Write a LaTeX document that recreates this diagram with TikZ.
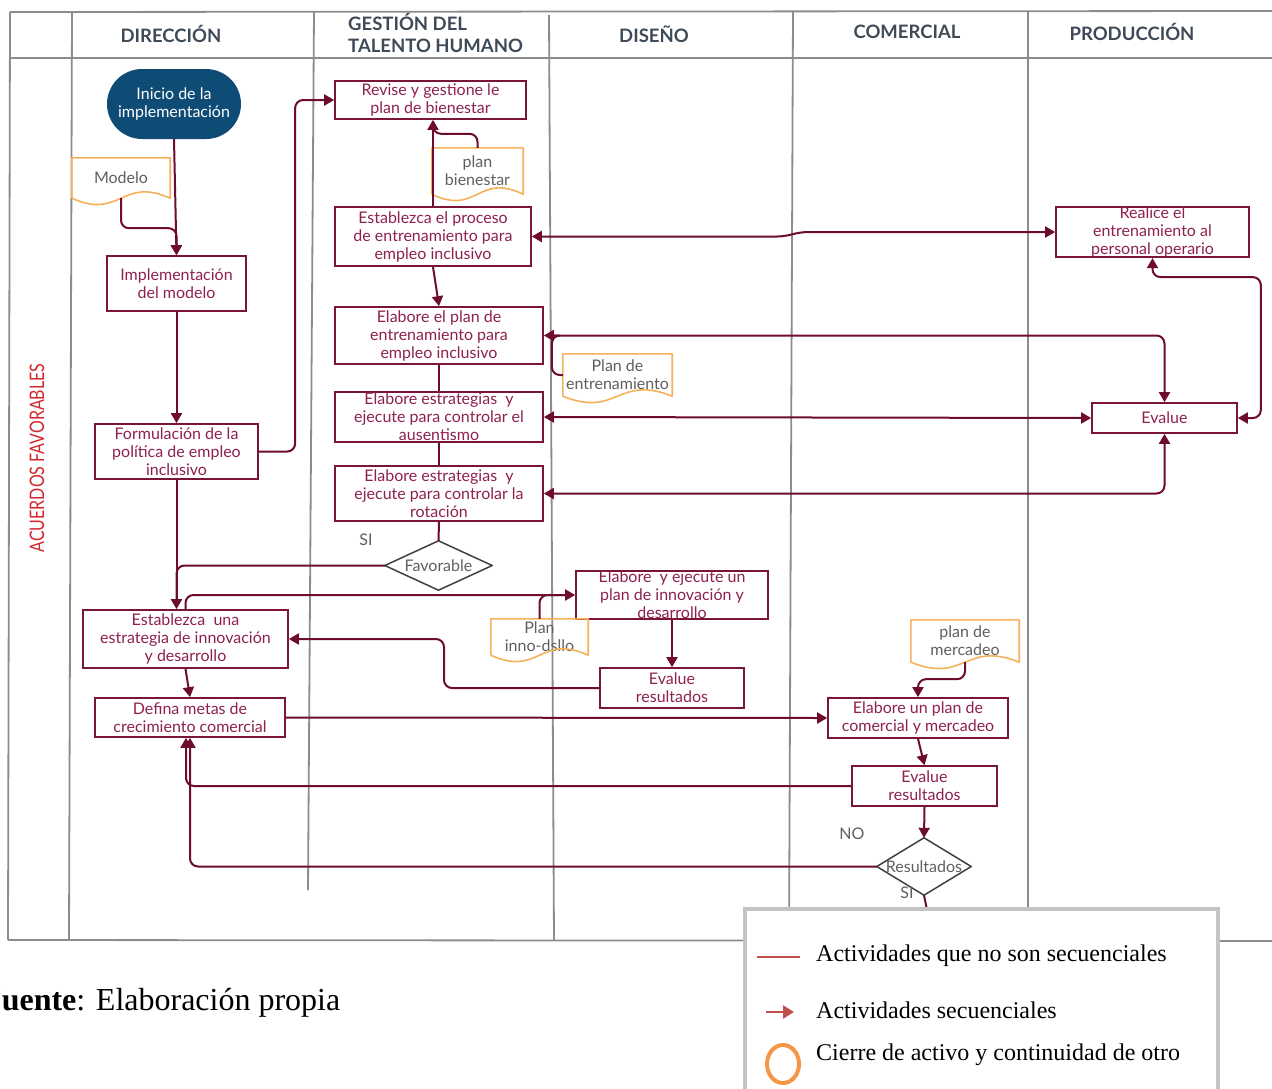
\documentclass[tikz,border=0pt]{standalone}
\usepackage{fontspec}
\setmainfont{Liberation Serif}
\newfontfamily\latofont{Lato}
\usetikzlibrary{arrows.meta,calc}

\definecolor{lane}{HTML}{8C8C8C}
\definecolor{hdr}{HTML}{3E4A57}
\definecolor{boxline}{HTML}{7A1538}
\definecolor{boxtext}{HTML}{8E2150}
\definecolor{wire}{HTML}{6E0B31}
\definecolor{docedge}{HTML}{F5B15A}
\definecolor{doctext}{HTML}{5F5F5F}
\definecolor{startfill}{HTML}{0F4C75}
\definecolor{sidelabel}{HTML}{D3262E}
\definecolor{legendframe}{HTML}{C4C4C4}
\definecolor{legendred}{HTML}{C0504D}
\definecolor{legendorange}{HTML}{F79646}

\tikzset{
  lanerule/.style={draw=lane, line width=1.8pt},
  header/.style={font=\latofont\bfseries\fontsize{18.5}{21.5}\selectfont, text=hdr, align=left, inner sep=0pt},
  stepbox/.style={draw=boxline, line width=1.7pt, fill=white, font=\latofont\fontsize{16}{18}\selectfont,
    text=boxtext, align=center, inner sep=0pt},
  docnode/.style={font=\latofont\fontsize{16}{18}\selectfont, text=doctext, align=center, inner sep=0pt},
  decision/.style={font=\latofont\fontsize{16}{18}\selectfont, text=doctext, inner sep=0pt},
  smalllabel/.style={font=\latofont\fontsize{16}{18}\selectfont, text=doctext, inner sep=0pt},
  conn/.style={draw=wire, line width=2pt, rounded corners=8pt},
  tip/.style={-{Triangle[length=10pt,width=11pt]}},
  arr/.style={conn, tip},
  biarr/.style={conn, {Triangle[length=10pt,width=11pt]}-{Triangle[length=10pt,width=11pt]}},
  legendtext/.style={font=\fontsize{24}{28}\selectfont, inner sep=0pt, anchor=base west},
}

% document symbol: straight top and sides, wavy bottom
\newcommand\docoutline[1]{%
  \draw[docedge, line width=1.6pt, line join=round]
    (#1.south west) -- (#1.north west) -- (#1.north east) -- (#1.south east)
    .. controls ($(#1.south)+(0,-22)$) and ($(#1.south)+(0,22)$) .. (#1.south west);}
% decision symbol drawn on the anchors of its node
\newcommand\diamondoutline[1]{%
  \draw[black!75, line width=1.5pt, line join=round]
    (#1.north) -- (#1.east) -- (#1.south) -- (#1.west) -- cycle;}

\begin{document}
\begin{tikzpicture}[x=1pt, y=-1pt]
\useasboundingbox (0,0) rectangle (1272,1088);

% ---------- swimlanes ----------
\draw[lanerule] (10,12) -- (1272,11);
\draw[lanerule] (10,58) -- (1272,58);
\draw[lanerule] (8,940) -- (1272,941);
\draw[lanerule] (10,12) -- (8,940);
\draw[lanerule] (72,12) -- (69,940);
\draw[lanerule] (314,12) -- (308,890);
\draw[lanerule] (549,15) -- (554,940);
\draw[lanerule] (793,12) -- (789,940);
\draw[lanerule] (1028,12) -- (1028,940);

\node[header, anchor=center] (hdir) at (171,34) {DIRECCIÓN};
\node[header, anchor=west] (hgth) at (348,33) {GESTIÓN DEL\\TALENTO HUMANO};
\node[header, anchor=center] (hdis) at (654,34) {DISEÑO};
\node[header, anchor=center] (hcom) at (907,32) {COMERCIAL};
\node[header, anchor=center] (hpro) at (1132,32) {PRODUCCIÓN};

\node[rotate=90, text=sidelabel, inner sep=0pt, font=\latofont\fontsize{20}{24}\selectfont]
  (side) at (37,458) {\scalebox{0.8}[1]{ACUERDOS FAVORABLES}};

% ---------- activities ----------
\node[fill=startfill, rounded corners=35pt, minimum width=134pt, minimum height=70pt, inner sep=0pt,
  align=center, text=white, font=\latofont\fontsize{16}{18}\selectfont]
  (start) at (174,104) {Inicio de la\\implementación};

\node[stepbox, minimum width=139pt, minimum height=55pt] (impl) at (176.5,283.5) {Implementación\\del modelo};
\node[stepbox, minimum width=163pt, minimum height=55pt] (form) at (176.5,451.5) {Formulación de la\\política de empleo\\inclusivo};
\node[stepbox, minimum width=191pt, minimum height=38pt] (revise) at (430.5,100) {Revise y gestione le\\plan de bienestar};
\node[stepbox, minimum width=196pt, minimum height=59pt] (estp) at (433,236.5) {Establezca el proceso\\de entrenamiento para\\empleo inclusivo};
\node[stepbox, minimum width=208pt, minimum height=57pt] (epl) at (439,335.5) {Elabore el plan de\\entrenamiento para\\empleo inclusivo};
\node[stepbox, minimum width=208pt, minimum height=50pt] (aus) at (439,417) {Elabore estrategias \ y\\ejecute para controlar el\\ausentismo};
\node[stepbox, minimum width=208pt, minimum height=55pt] (rot) at (439,493.5) {Elabore estrategias \ y\\ejecute para controlar la\\rotación};
\node[stepbox, minimum width=205pt, minimum height=58pt] (estu) at (185.5,639) {Establezca \ una\\estrategia de innovación\\y desarrollo};
\node[stepbox, minimum width=190pt, minimum height=39pt] (defm) at (190,717.5) {Defina metas de\\crecimiento comercial};
\node[stepbox, minimum width=192pt, minimum height=48pt] (ejd) at (672,595) {Elabore \ y ejecute un\\plan de innovación y\\desarrollo};
\node[stepbox, minimum width=144pt, minimum height=40pt] (evd) at (672,688) {Evalue\\resultados};
\node[stepbox, minimum width=180pt, minimum height=40pt] (epc) at (918,718) {Elabore un plan de\\comercial y mercadeo};
\node[stepbox, minimum width=145pt, minimum height=40pt] (eve) at (924.5,786) {Evalue\\resultados};
\node[stepbox, minimum width=193pt, minimum height=50pt] (realice) at (1152.5,232) {Realice el\\entrenamiento al\\personal operario};
\node[stepbox, minimum width=145pt, minimum height=30pt] (evp) at (1164.5,418) {Evalue};

% ---------- documents ----------
\node[docnode, minimum width=98pt, minimum height=40pt] (modelo) at (121,178) {Modelo};
\node[docnode, minimum width=91pt, minimum height=46pt] (planb) at (477.5,171) {plan\\bienestar};
\node[docnode, minimum width=109pt, minimum height=42pt] (pent) at (617.5,375) {Plan de\\entrenamiento};
\node[docnode, minimum width=97pt, minimum height=36pt] (pinn) at (539.5,637) {Plan\\inno-dsllo};
\node[docnode, minimum width=108pt, minimum height=42pt] (pmer) at (965,641) {plan de\\mercadeo};
\docoutline{modelo}
\docoutline{planb}
\docoutline{pent}
\docoutline{pinn}
\docoutline{pmer}

% ---------- decisions ----------
\node[decision, minimum width=107pt, minimum height=49pt] (fav) at (438.5,565.5) {Favorable};
\diamondoutline{fav}
\node[decision, minimum width=94pt, minimum height=57pt] (res) at (924,866.5) {Resultados};
\diamondoutline{res}
\node[smalllabel] (si1) at (366,540) {SI};
\node[smalllabel] (no2) at (852,834) {NO};
\node[smalllabel] (si2) at (907,893) {SI};

% ---------- sequential flow ----------
\draw[arr] (start.south) -- (impl.north);
\draw[arr] (modelo.south) -- ++(0,30) -| (impl.north);
\draw[arr] (impl.south) -- (form.north);
\draw[arr] (form.east) -| ($(revise.west)+(-39,0)$) -- (revise.west);
\draw[arr] (form.south) -- (form.south |- estu.north);
\draw[arr] (estp.north) -- (estp.north |- revise.south);
\draw[conn] (planb.north) -- ++(0,-14) -| ($(estp.north |- revise.south)+(0,6)$);
\draw[arr] (estp.south) -- (epl.north);
\draw[conn] (epl.south) -- (aus.north);
\draw[conn] (aus.south) -- (rot.north);
\draw[conn] (rot.south) -- (fav.north);
\draw[conn] (fav.west) -| ($(form.south |- estu.north)+(0,-8)$);
\draw[arr] (estu.north) |- (ejd.west);
\draw[conn] (pinn.north) |- ($(ejd.west)+(-8,0)$);
\draw[arr] (ejd.south) -- (evd.north);
\draw[arr] (evd.west) -- (444,688) |- (estu.east);
\draw[arr] (estu.south) -- (defm.north);
\draw[arr] (defm.east) -- (epc.west);
\draw[arr] (pmer.south) -- ++(0,17) -| (epc.north);
\draw[arr] (epc.south) -- (eve.north);
\draw[arr] (eve.west) -| ($(defm.south)+(-4,0)$);
\draw[arr] (eve.south) -- (res.north);
\draw[arr] (res.west) -| (defm.south);
\draw[conn] (res.south) -- (928,915);

% ---------- links in both directions ----------
\draw[biarr] (estp.east) -- (785,236.5) -- (800,232) -- (realice.west);
\draw[biarr] (epl.east) -| (evp.north);
\draw[conn] (pent.west) -- ++(-11,0) |- ($(epl.east)+(8,0)$);
\draw[biarr] (aus.east) -- (evp.west);
\draw[biarr] (rot.east) -| (evp.south);
\draw[biarr] (realice.south) -- ++(0,19) -| ($(evp.east)+(23,0)$) -- (evp.east);

% ---------- legend ----------
\draw[legendframe, line width=3.5pt, fill=white] (745,909) rectangle (1218,1100);
\draw[legendred, line width=1.5pt] (757,957) -- (800,957);
\node[legendtext] (lg1) at (816,961) {Actividades que no son secuenciales};
\draw[legendred, line width=2.5pt, -{Triangle[length=11pt,width=13pt]}] (766,1012) -- (794,1012);
\node[legendtext] (lg2) at (816,1018) {Actividades secuenciales};
\draw[legendorange, line width=4pt] (783,1064) ellipse [x radius=16, y radius=19];
\node[legendtext] (lg3) at (816,1060) {Cierre de activo y continuidad de otro};

% ---------- source ----------
\node[font=\fontsize{32}{36}\selectfont, inner sep=0pt, anchor=base west] (src) at (-18,1010)
  {\textbf{Fuente}: Elaboración propia};
\end{tikzpicture}
\end{document}
